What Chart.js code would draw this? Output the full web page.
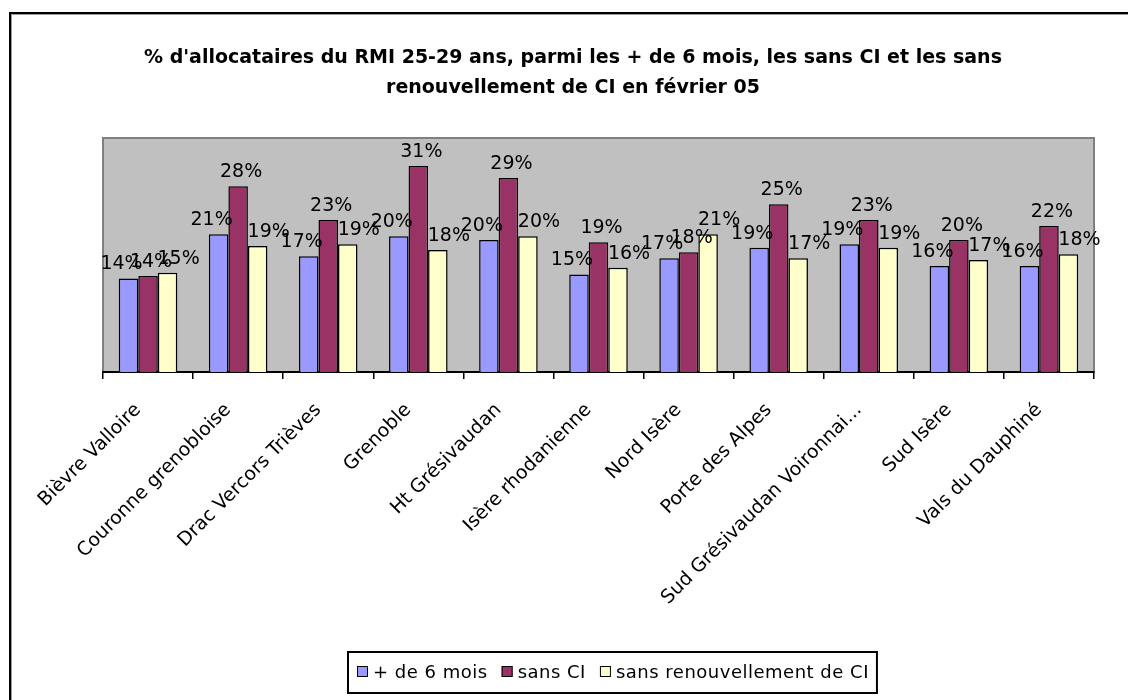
<!DOCTYPE html>
<html>
<head>
<meta charset="utf-8">
<script src="https://cdn.jsdelivr.net/npm/chart.js@4/dist/chart.umd.min.js"></script>
<style>
  html, body { margin: 0; padding: 0; background: #fff; }
  #wrap { width: 1128px; height: 700px; position: relative; }
</style>
</head>
<body>
<div id="wrap"><canvas id="c" width="1128" height="700"></canvas></div>
<script>
// Territoires
const categories = [
  'Bièvre Valloire', 'Couronne grenobloise', 'Drac Vercors Trièves', 'Grenoble',
  'Ht Grésivaudan', 'Isère rhodanienne', 'Nord Isère', 'Porte des Alpes',
  'Sud Grésivaudan Voironnai...', 'Sud Isère', 'Vals du Dauphiné'
];

// Part des 25-29 ans (%)
const plusDe6Mois        = [14.0, 20.6, 17.3, 20.3, 19.75, 14.6, 17.0, 18.6, 19.1, 15.85, 15.85];
const sansCI             = [14.35, 27.8, 22.75, 30.8, 29.0, 19.4, 17.9, 25.1, 22.75, 19.75, 21.85];
const sansRenouvellement = [14.85, 18.85, 19.1, 18.25, 20.3, 15.6, 20.6, 17.0, 18.6, 16.75, 17.6];

const seriesNames = ['+ de 6 mois', 'sans CI', 'sans renouvellement de CI'];
const seriesColors = ['#9999FF', '#993366', '#FFFFCC'];

const titleLines = [
  "% d'allocataires du RMI 25-29 ans, parmi les + de 6 mois, les sans CI et les sans",
  "renouvellement de CI en février 05"
];

const FONT = "'DejaVu Sans', 'Liberation Sans', Arial, sans-serif";

// Frame, plot background and border
const framePlugin = {
  id: 'frame',
  beforeDraw(chart) {
    const ctx = chart.ctx;
    const a = chart.chartArea;
    ctx.save();
    ctx.fillStyle = '#fff';
    ctx.fillRect(0, 0, chart.width, chart.height);
    // outer chart border
    ctx.fillStyle = '#000';
    ctx.fillRect(9, 12, 2, chart.height);
    ctx.fillRect(9, 12, chart.width, 2);
    ctx.fillStyle = '#9a9a9a';
    ctx.fillRect(11, 14, 1, chart.height);
    ctx.fillRect(11, 14, chart.width, 1);
    // plot area
    ctx.fillStyle = '#C0C0C0';
    ctx.fillRect(a.left, a.top, a.right - a.left, a.bottom - a.top);
    ctx.strokeStyle = '#808080';
    ctx.lineWidth = 2;
    ctx.strokeRect(a.left, a.top, a.right - a.left, a.bottom - a.top);
    ctx.restore();
  }
};

// Value labels above the bars
const valueLabels = {
  id: 'valueLabels',
  afterDatasetsDraw(chart) {
    const ctx = chart.ctx;
    const shift = [-7, 3, 11];
    ctx.save();
    ctx.font = '19px ' + FONT;
    ctx.fillStyle = '#000';
    ctx.textAlign = 'center';
    ctx.textBaseline = 'alphabetic';
    chart.data.datasets.forEach((ds, di) => {
      const meta = chart.getDatasetMeta(di);
      meta.data.forEach((bar, i) => {
        ctx.fillText(Math.round(ds.data[i]) + '%', bar.x + shift[di], bar.y - 9);
      });
    });
    ctx.restore();
  }
};

// Title and boxed legend
const titleLegend = {
  id: 'titleLegend',
  afterDraw(chart) {
    const ctx = chart.ctx;
    ctx.save();
    ctx.fillStyle = '#000';
    ctx.font = 'bold 19px ' + FONT;
    ctx.textAlign = 'center';
    ctx.textBaseline = 'alphabetic';
    ctx.fillText(titleLines[0], 573, 63);
    ctx.fillText(titleLines[1], 573, 93);

    // legend
    ctx.font = '18px ' + FONT;
    ctx.textAlign = 'left';
    if ('letterSpacing' in ctx) ctx.letterSpacing = '0.5px';
    let x = 357;
    const items = chart.data.datasets.map(d => ({ label: d.label, color: d.backgroundColor }));
    items.forEach((it) => {
      ctx.fillStyle = it.color;
      ctx.fillRect(x, 666, 11, 11);
      ctx.strokeStyle = '#000';
      ctx.lineWidth = 1;
      ctx.strokeRect(x + 0.5, 666.5, 10, 10);
      ctx.fillStyle = '#000';
      ctx.fillText(it.label, x + 16, 678);
      x += 16 + ctx.measureText(it.label).width + 14;
    });
    ctx.lineWidth = 2;
    ctx.strokeStyle = '#000';
    ctx.strokeRect(348, 652, x - 14 + 8 - 348, 41);
    ctx.restore();
  }
};

const series = [plusDe6Mois, sansCI, sansRenouvellement];

new Chart(document.getElementById('c'), {
  type: 'bar',
  data: {
    labels: categories,
    datasets: series.map((values, k) => ({
      label: seriesNames[k],
      data: values,
      backgroundColor: seriesColors[k],
      borderColor: '#000',
      borderWidth: 1.5,
      categoryPercentage: 0.65,
      barPercentage: 1.0
    }))
  },
  options: {
    responsive: false,
    animation: false,
    layout: { padding: { left: 103, right: 34, top: 138, bottom: 0 } },
    plugins: {
      legend: { display: false },
      title: { display: false },
      tooltip: { enabled: false }
    },
    scales: {
      x: {
        offset: true,
        grid: {
          offset: true,
          drawOnChartArea: false,
          drawTicks: true,
          tickLength: 7,
          color: '#000',
          lineWidth: 1.5
        },
        border: { display: true, color: '#000', width: 2 },
        ticks: {
          autoSkip: false,
          minRotation: 45,
          maxRotation: 45,
          color: '#000',
          font: { family: FONT, size: 19 },
          padding: 20,
          labelOffset: -10
        },
        afterFit(scale) { scale.height = 328; }
      },
      y: { display: false, min: 0, max: 35 }
    }
  },
  plugins: [framePlugin, valueLabels, titleLegend]
});
</script>
</body>
</html>
